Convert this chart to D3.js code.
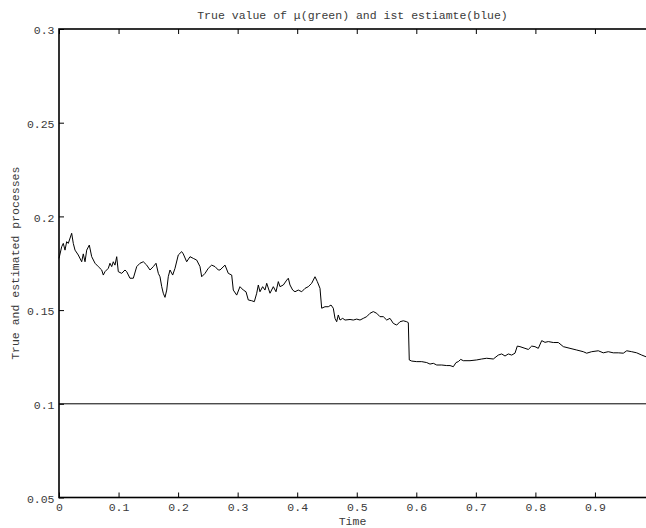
<!DOCTYPE html>
<html><head><meta charset="utf-8">
<script src="https://cdn.jsdelivr.net/npm/d3@7"></script>
<style>html,body{margin:0;padding:0;background:#fff;}svg{display:block;}</style>
</head><body>
<script>
const times = [0.000,0.0045,0.0072,0.0101,0.0129,0.0156,0.0213,0.024,0.0269,0.0324,0.0381,0.0408,0.0437,0.0465,0.0509,0.0549,0.0605,0.066,0.0717,0.0744,0.0772,0.0828,0.0856,0.0885,0.0912,0.094,0.0969,0.0996,0.1053,0.1108,0.1137,0.1192,0.1248,0.1305,0.136,0.1416,0.1473,0.1528,0.1584,0.1629,0.1668,0.1696,0.1725,0.1751,0.178,0.1809,0.1835,0.1864,0.1909,0.1948,0.2003,0.206,0.2087,0.2144,0.22,0.2255,0.2312,0.2368,0.2396,0.2452,0.2507,0.2564,0.262,0.2675,
0.2704,0.2788,0.2843,0.29,0.2927,0.2984,0.3039,0.3095,0.314,0.3179,0.3236,0.328,0.332,0.3347,0.3375,0.342,0.3459,0.3488,0.3543,0.3599,0.3644,0.3683,0.3711,0.3767,0.3824,0.3851,0.3879,0.3924,0.3963,0.4018,0.4076,0.4131,0.4186,0.4243,0.4299,0.4338,0.4383,0.4411,0.4467,0.4522,0.4568,0.4606,0.4635,0.4663,0.469,0.4719,0.4764,0.4803,0.4887,0.4942,0.4999,0.5055,0.511,0.5167,0.5223,0.5278,0.5335,0.539,0.5446,0.5503,0.5558,0.5614,0.5671,0.5726,0.5782,0.5839,0.5866,
0.5882,0.5923,0.6007,0.6091,0.6175,0.623,0.6286,0.6343,0.6427,0.6511,0.6566,0.6622,0.6667,0.6705,0.6746,0.6789,0.6902,0.7014,0.7098,0.7182,0.7293,0.7377,0.7434,0.749,0.7545,0.7602,0.7657,0.7696,0.7741,0.7825,0.7881,0.7938,0.7993,0.8049,0.8106,0.8161,0.8217,0.8301,0.8385,0.8469,0.8581,0.8694,0.8804,0.8861,0.8945,0.9056,0.914,0.9224,0.9308,0.9392,0.9476,0.9534,0.9617,0.9701,0.9785,0.9857];
const estimate = [0.1776,0.1838,0.1856,0.182,0.1865,0.1856,0.191,0.1856,0.182,0.1794,0.1758,0.180,0.1758,0.182,0.1847,0.1785,0.175,0.1732,0.1714,0.1687,0.1705,0.1723,0.175,0.1732,0.1758,0.174,0.1785,0.1705,0.1696,0.1714,0.1705,0.167,0.167,0.1732,0.175,0.1758,0.174,0.1714,0.1732,0.175,0.1696,0.1678,0.1625,0.159,0.1568,0.1607,0.1678,0.1714,0.1687,0.1723,0.1794,0.1812,0.180,0.1758,0.1785,0.1776,0.1767,0.1732,0.1678,0.1696,0.1723,0.174,0.1732,0.1714,
0.1714,0.174,0.1696,0.1687,0.1607,0.158,0.1625,0.1607,0.1598,0.1554,0.155,0.1545,0.159,0.1634,0.1598,0.1625,0.1607,0.1643,0.159,0.1625,0.1598,0.1652,0.1625,0.1634,0.166,0.167,0.1634,0.1607,0.1598,0.1607,0.1598,0.1616,0.1625,0.1643,0.1678,0.1652,0.1616,0.151,0.1518,0.1518,0.1527,0.151,0.1456,0.1438,0.1474,0.1447,0.1456,0.1447,0.145,0.1447,0.1452,0.1447,0.1456,0.1465,0.1483,0.1492,0.1483,0.1465,0.1465,0.1447,0.1456,0.1429,0.142,0.1438,0.1443,0.1438,0.1433,
0.1234,0.1228,0.1225,0.1225,0.122,0.1212,0.1216,0.1207,0.1207,0.1204,0.1204,0.1198,0.122,0.1225,0.1237,0.123,0.123,0.1234,0.1239,0.1243,0.1239,0.126,0.1266,0.1255,0.1266,0.126,0.127,0.1308,0.1305,0.1296,0.129,0.1308,0.1305,0.1296,0.1337,0.1328,0.1332,0.1327,0.1327,0.1305,0.1296,0.1287,0.1278,0.127,0.1278,0.1283,0.1272,0.1278,0.1272,0.1272,0.127,0.1283,0.1278,0.1272,0.126,0.1251];
const trueTimes = [0, 1];
const trueValues = [0.1, 0.1];
const xTicks = [0,0.1,0.2,0.3,0.4,0.5,0.6,0.7,0.8,0.9];
const xTickLabels = ["0","0.1","0.2","0.3","0.4","0.5","0.6","0.7","0.8","0.9"];
const yTicks = [0.05,0.1,0.15,0.2,0.25,0.3];
const yTickLabels = ["0.05","0.1","0.15","0.2","0.25","0.3"];
const titleText = "True value of \u03BC(green) and ist estiamte(blue)";
const xLabel = "Time";
const yLabel = "True and estimated processes";

const W = 646, H = 528;
const L = 59, R = 654.5, T = 29, B = 497.5;
const font = "'Liberation Mono','Courier New',monospace";
const fs = 11.5;
const txtColor = "#3a3a3a";
const svg = d3.select("body").append("svg").attr("width", W).attr("height", H);
const x = d3.scaleLinear().domain([0,1]).range([L,R]);
const y = d3.scaleLinear().domain([0.05,0.3]).range([B,T]);

const xi = (v)=>xTickLabels[xTicks.indexOf(v)];
const yi = (v)=>yTickLabels[yTicks.indexOf(v)];
const gb = svg.append("g").attr("transform",`translate(0,${B})`)
  .call(d3.axisBottom(x).tickValues(xTicks).tickFormat(xi).tickSizeInner(-5).tickSizeOuter(0).tickPadding(5.2));
const gt = svg.append("g").attr("transform",`translate(0,${T})`)
  .call(d3.axisTop(x).tickValues(xTicks).tickFormat("").tickSizeInner(-5).tickSizeOuter(0));
const gl = svg.append("g").attr("transform",`translate(${L},0)`)
  .call(d3.axisLeft(y).tickValues(yTicks).tickFormat(yi).tickSizeInner(-5).tickSizeOuter(0).tickPadding(4.5));
const gr = svg.append("g").attr("transform",`translate(${R},0)`)
  .call(d3.axisRight(y).tickValues(yTicks).tickFormat("").tickSizeInner(-5).tickSizeOuter(0));
[gb,gt,gl,gr].forEach(g=>{
  g.select(".domain").remove();
  g.selectAll(".tick line").attr("stroke","#000").attr("stroke-width",1);
  g.selectAll("text").attr("font-family",font).attr("font-size",fs).attr("fill",txtColor);
});
gl.selectAll("text").attr("dy","0.4em");

svg.append("rect").attr("x",L).attr("y",T).attr("width",R-L).attr("height",B-T)
  .attr("fill","none").attr("stroke","#000").attr("stroke-width",1.6);

const line = d3.line().x(d=>x(d[0])).y(d=>y(d[1]));
svg.append("path").datum(trueTimes.map((t,i)=>[t,trueValues[i]]))
  .attr("d",line).attr("fill","none").attr("stroke","#000").attr("stroke-width",1);
svg.append("path").datum(times.map((t,i)=>[t,estimate[i]]))
  .attr("d",line).attr("fill","none").attr("stroke","#000").attr("stroke-width",1).attr("stroke-linejoin","round");

svg.append("text").attr("x",(L+646)/2).attr("y",19.3).attr("text-anchor","middle")
  .attr("font-family",font).attr("font-size",fs).attr("fill",txtColor).text(titleText);
svg.append("text").attr("x",(L+646)/2).attr("y",525.3).attr("text-anchor","middle")
  .attr("font-family",font).attr("font-size",fs).attr("fill",txtColor).text(xLabel);
svg.append("text").attr("transform",`translate(19,${(T+B)/2}) rotate(-90)`).attr("text-anchor","middle")
  .attr("font-family",font).attr("font-size",fs).attr("fill",txtColor).text(yLabel);
</script>
</body></html>
